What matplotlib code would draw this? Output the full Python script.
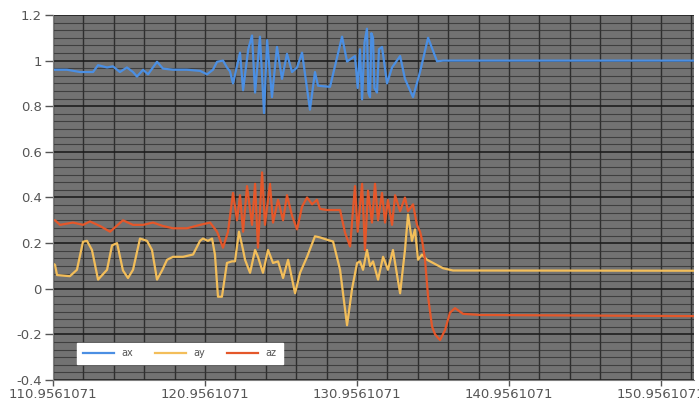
import matplotlib
matplotlib.use("Agg")
import matplotlib.pyplot as plt
from matplotlib.ticker import MultipleLocator, FixedLocator, FuncFormatter
import numpy as np

# Accelerometer samples (time in s, acceleration in g)
t_ax = [110.96, 111.09, 111.88, 112.73, 113.59, 113.92, 114.51, 114.90, 115.36, 115.82,
        116.22, 116.48, 116.88, 117.21, 117.80, 118.19, 118.85, 119.77, 120.63, 121.09,
        121.48, 121.75, 122.14, 122.40, 122.60, 122.80, 123.26, 123.46, 123.80, 124.05,
        124.25, 124.57, 124.84, 125.04, 125.36, 125.69, 126.02, 126.35, 126.68, 127.01,
        127.34, 127.86, 128.19, 128.39, 129.18, 129.97, 130.30, 130.82, 131.00, 131.15,
        131.29, 131.45, 131.61, 131.70, 131.81, 131.90, 132.01, 132.10, 132.27, 132.40,
        132.60, 132.93, 133.26, 133.79, 134.11, 134.64, 135.10, 135.63, 136.22, 136.61,
        137.50, 153.13]
ax_vals = [0.96, 0.96, 0.96, 0.95, 0.95, 0.98, 0.97, 0.975, 0.95, 0.97,
           0.95, 0.93, 0.96, 0.94, 0.995, 0.965, 0.96, 0.96, 0.955, 0.94,
           0.96, 0.995, 1.0, 0.97, 0.953, 0.90, 1.035, 0.87, 1.05, 1.11,
           0.86, 1.105, 0.77, 1.09, 0.84, 1.06, 0.92, 1.03, 0.95, 0.97,
           1.035, 0.785, 0.95, 0.89, 0.885, 1.105, 0.996, 1.02, 0.88, 1.05,
           0.83, 1.08, 1.14, 0.86, 0.84, 1.12, 1.10, 0.88, 0.86, 1.05,
           1.06, 0.90, 0.97, 1.02, 0.92, 0.84, 0.95, 1.10, 0.997, 1.0,
           1.0, 1.0]

t_ay = [110.96, 111.09, 111.22, 112.07, 112.53, 112.93, 113.19, 113.52, 113.92, 114.51,
        114.84, 115.17, 115.56, 115.89, 116.22, 116.68, 117.14, 117.47, 117.80, 118.13,
        118.46, 118.85, 119.51, 120.17, 120.63, 120.82, 121.15, 121.42, 121.61, 121.81,
        122.07, 122.40, 122.73, 122.93, 123.19, 123.46, 123.59, 123.92, 124.25, 124.44,
        124.77, 125.10, 125.43, 125.76, 126.09, 126.42, 126.88, 127.21, 127.67, 128.19,
        128.52, 128.98, 129.38, 129.84, 130.30, 130.63, 130.96, 131.15, 131.35, 131.61,
        131.81, 132.01, 132.34, 132.67, 132.99, 133.32, 133.59, 133.79, 134.11, 134.31,
        134.57, 134.77, 134.97, 135.23, 135.56, 135.96, 136.61, 137.27, 153.13]
ay_vals = [0.11, 0.105, 0.06, 0.055, 0.083, 0.206, 0.21, 0.17, 0.04, 0.083,
           0.19, 0.20, 0.08, 0.047, 0.083, 0.22, 0.21, 0.17, 0.04, 0.08,
           0.127, 0.14, 0.14, 0.15, 0.21, 0.22, 0.21, 0.22, 0.15, -0.035,
           -0.035, 0.113, 0.12, 0.12, 0.25, 0.17, 0.127, 0.07, 0.17, 0.14,
           0.07, 0.17, 0.113, 0.12, 0.047, 0.127, -0.02, 0.07, 0.14, 0.23,
           0.225, 0.215, 0.207, 0.083, -0.16, 0.0, 0.113, 0.12, 0.083, 0.17,
           0.10, 0.12, 0.04, 0.14, 0.083, 0.17, 0.06, -0.02, 0.17, 0.325,
           0.21, 0.26, 0.127, 0.15, 0.127, 0.113, 0.09, 0.08, 0.079]

t_az = [110.96, 111.09, 111.42, 112.27, 112.93, 113.39, 114.05, 114.71, 115.56, 116.22,
        116.88, 117.54, 118.19, 118.85, 119.77, 120.63, 121.29, 121.75, 122.14, 122.47,
        122.80, 123.06, 123.26, 123.46, 123.72, 124.05, 124.25, 124.44, 124.71, 124.90,
        125.23, 125.43, 125.76, 126.09, 126.35, 126.68, 127.01, 127.34, 127.67, 128.00,
        128.32, 128.52, 128.98, 129.38, 129.84, 130.17, 130.50, 130.82, 131.00, 131.15,
        131.29, 131.48, 131.68, 131.94, 132.14, 132.34, 132.60, 132.80, 132.99, 133.26,
        133.46, 133.79, 134.11, 134.31, 134.64, 134.90, 135.10, 135.23, 135.43, 135.63,
        135.89, 136.09, 136.42, 136.75, 137.07, 137.40, 137.93, 139.05, 153.13]
az_vals = [0.30, 0.30, 0.28, 0.29, 0.28, 0.295, 0.275, 0.25, 0.30, 0.28,
           0.28, 0.29, 0.275, 0.265, 0.265, 0.28, 0.29, 0.25, 0.18, 0.25,
           0.42, 0.30, 0.41, 0.25, 0.45, 0.28, 0.46, 0.18, 0.51, 0.28,
           0.46, 0.29, 0.39, 0.30, 0.41, 0.32, 0.26, 0.36, 0.40, 0.37,
           0.39, 0.35, 0.345, 0.345, 0.345, 0.245, 0.185, 0.45, 0.25, 0.36,
           0.46, 0.17, 0.43, 0.29, 0.46, 0.30, 0.42, 0.29, 0.39, 0.28,
           0.41, 0.34, 0.40, 0.34, 0.37, 0.28, 0.25, 0.215, 0.127, -0.035,
           -0.165, -0.20, -0.225, -0.18, -0.105, -0.085, -0.11, -0.115, -0.12]

x_ticks = [110.9561071, 120.9561071, 130.9561071, 140.9561071, 150.9561071]
series_names = ["ax", "ay", "az"]
series_colors = ["#4b8fe3", "#f3be5a", "#e4572a"]

fig = plt.figure(figsize=(6.99, 4.03), dpi=100)
ax = fig.add_axes([0.0758, 0.0571, 0.9172, 0.9057])
ax.set_facecolor("#727272")

for t, v, name, col in zip([t_ax, t_ay, t_az], [ax_vals, ay_vals, az_vals],
                           series_names, series_colors):
    ax.plot(t, v, color=col, lw=1.6, label=name, solid_joinstyle="round")

ax.set_xlim(x_ticks[0], 153.13)
ax.set_ylim(-0.4, 1.2)

ax.xaxis.set_major_locator(FixedLocator(x_ticks))
ax.xaxis.set_major_formatter(FuncFormatter(lambda v, p: f"{v:.7f}"))
ax.xaxis.set_minor_locator(FixedLocator(np.arange(x_ticks[0], 153.2, 2.0)))
ax.yaxis.set_major_locator(MultipleLocator(0.2))
ax.yaxis.set_minor_locator(MultipleLocator(0.2 / 6))
ax.yaxis.set_major_formatter(FuncFormatter(lambda v, p: f"{v:g}" if abs(v) > 1e-9 else "0"))

ax.grid(which="major", axis="y", color="#1e1e1e", lw=1.2)
ax.grid(which="minor", axis="y", color="#333333", lw=0.8, alpha=0.8)
ax.grid(which="minor", axis="x", color="#222222", lw=1.0, alpha=0.85)
ax.grid(which="major", axis="x", color="#222222", lw=1.0, alpha=0.85)
ax.set_axisbelow(True)

ax.tick_params(axis="y", which="major", labelsize=9.5, colors="#555555",
               length=6, width=1, direction="out", pad=2)
ax.tick_params(axis="x", which="major", labelsize=9.5, colors="#555555",
               length=4, width=1, direction="out", pad=1.5)
ax.tick_params(axis="both", which="minor", length=0)
for s in ["top", "right"]:
    ax.spines[s].set_visible(False)
for s in ["left", "bottom"]:
    ax.spines[s].set_color("#808080")

leg = ax.legend(loc="lower left", bbox_to_anchor=(0.03, 0.03), ncol=3,
                frameon=True, fancybox=False, framealpha=1.0, edgecolor="white",
                facecolor="white", fontsize=7, handlelength=3.2,
                columnspacing=2.2, borderpad=0.6, handletextpad=0.8)
for txt in leg.get_texts():
    txt.set_color("#555555")

fig.savefig("out.png", dpi=100, facecolor="white")
